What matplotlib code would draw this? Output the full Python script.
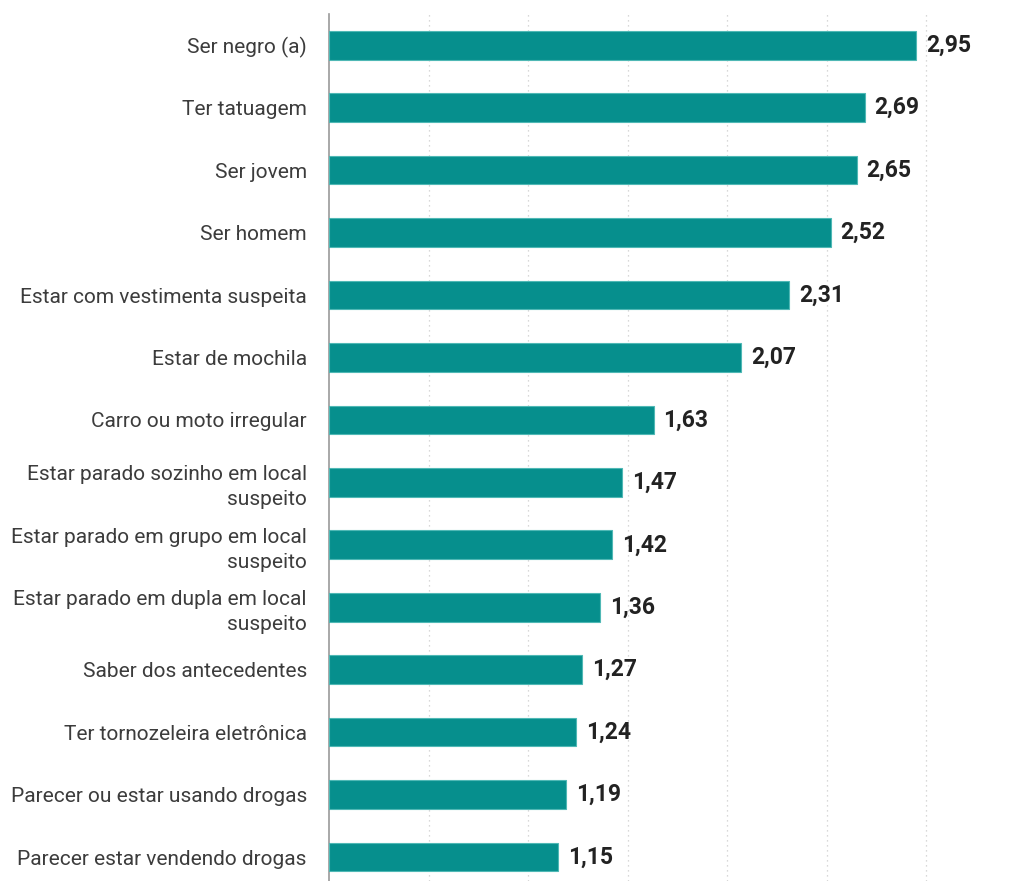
import matplotlib
matplotlib.use("Agg")
import matplotlib.pyplot as plt

plt.rcParams['font.family'] = ['Roboto', 'DejaVu Sans']

# motivos de abordagem, do maior para o menor
categorias = [
    "Ser negro (a)",
    "Ter tatuagem",
    "Ser jovem",
    "Ser homem",
    "Estar com vestimenta suspeita",
    "Estar de mochila",
    "Carro ou moto irregular",
    "Estar parado sozinho em local\nsuspeito",
    "Estar parado em grupo em local\nsuspeito",
    "Estar parado em dupla em local\nsuspeito",
    "Saber dos antecedentes",
    "Ter tornozeleira eletrônica",
    "Parecer ou estar usando drogas",
    "Parecer estar vendendo drogas",
]
valores = [2.95, 2.69, 2.65, 2.52, 2.31, 2.07, 1.63, 1.47, 1.42, 1.36, 1.27, 1.24, 1.19, 1.15]
grade_x = [0.5, 1.0, 1.5, 2.0, 2.5, 3.0]

cor_barra = '#068F8D'

fig = plt.figure(figsize=(10.21, 8.81), dpi=100)
ax = fig.add_axes([329/1021, 0, 1 - 329/1021, 1 - 14/881])

pos = list(range(len(categorias)))
ax.barh(pos, valores, height=0.46, color=cor_barra, edgecolor='#4fb8b5', linewidth=0.8, zorder=3)

for y, v in zip(pos, valores):
    ax.text(v + 0.05, y, f"{v:.2f}".replace('.', ','), va='center', ha='left',
            fontsize=16.5, fontweight='bold', color='#222222', zorder=4)

ax.set_yticks(pos)
ax.set_yticklabels(categorias, fontsize=15, color='#3c3c3c', linespacing=1.4)
ax.tick_params(axis='y', length=0, pad=16)
ax.set_xticks(grade_x)
ax.tick_params(axis='x', length=0, labelbottom=False)
ax.grid(axis='x', color='#cccccc', linestyle=(0, (1, 3)), linewidth=0.9, zorder=0)

ax.set_xlim(0, (1021 - 329) / 199.1)
ax.set_ylim(13 + 24/62.46, -0.5)

for s in ['top', 'right', 'bottom']:
    ax.spines[s].set_visible(False)
ax.spines['left'].set_color('#9a9a9a')
ax.spines['left'].set_linewidth(1.2)

fig.savefig('out.png', dpi=100)
